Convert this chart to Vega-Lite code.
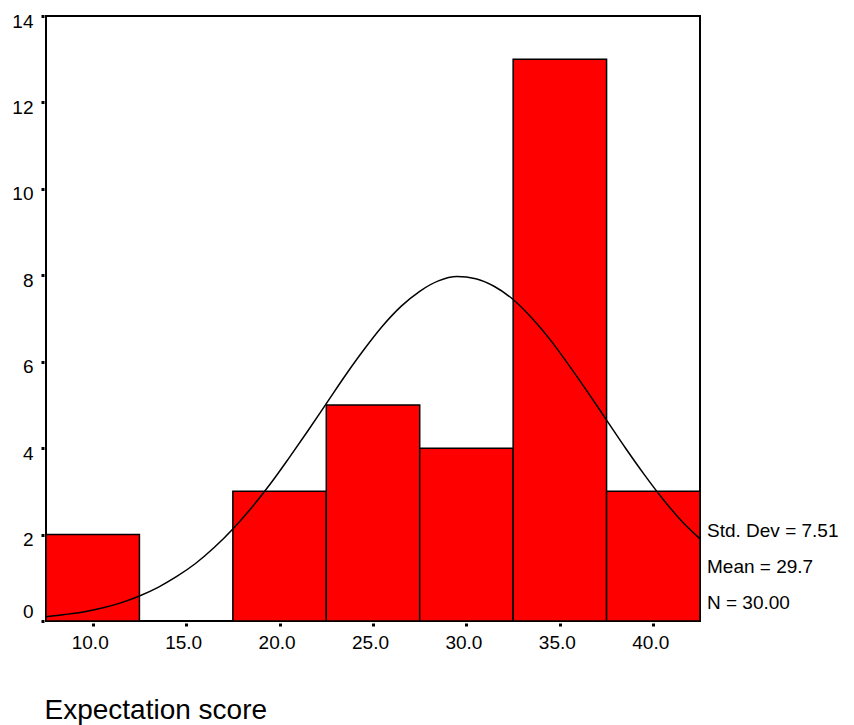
{
  "$schema": "https://vega.github.io/schema/vega-lite/v6.json",
  "width": 654,
  "height": 605,
  "padding": {"left": 46, "top": 16, "right": 154, "bottom": 104},
  "autosize": "none",
  "background": "white",
  "config": {
    "view": {"stroke": "black", "strokeWidth": 2},
    "font": "Liberation Sans",
    "axis": {"grid": false, "domain": false, "labelFont": "Liberation Sans", "labelFontSize": 19, "labelColor": "black", "tickColor": "black", "tickWidth": 3, "tickSize": 3, "offset": 2}
  },
  "layer": [
    {
      "data": {"values": [
        {"bin_start": 7.5, "bin_end": 12.5, "count": 2},
        {"bin_start": 12.5, "bin_end": 17.5, "count": 0},
        {"bin_start": 17.5, "bin_end": 22.5, "count": 3},
        {"bin_start": 22.5, "bin_end": 27.5, "count": 5},
        {"bin_start": 27.5, "bin_end": 32.5, "count": 4},
        {"bin_start": 32.5, "bin_end": 37.5, "count": 13},
        {"bin_start": 37.5, "bin_end": 42.5, "count": 3}
      ]},
      "mark": {"type": "rect", "fill": "#ff0000", "stroke": "black", "strokeWidth": 1.5},
      "encoding": {
        "x": {"field": "bin_start", "type": "quantitative",
          "scale": {"domain": [7.5, 42.5], "nice": false, "zero": false},
          "axis": {"values": [10, 15, 20, 25, 30, 35, 40], "format": ".1f", "labelPadding": 7, "labelOffset": -3,
            "title": "Expectation score", "titleFont": "Liberation Sans", "titleFontSize": 28, "titleFontWeight": "normal",
            "titleAnchor": "start", "titleAlign": "left", "titlePadding": 44, "titleX": -2}},
        "x2": {"field": "bin_end"},
        "y": {"field": "count", "type": "quantitative",
          "scale": {"domain": [0, 14], "nice": false},
          "axis": {"values": [0, 2, 4, 6, 8, 10, 12, 14], "labelPadding": 8,
            "labelOffset": {"condition": {"test": "datum.value == 0", "value": -10}, "value": 5}, "title": null}},
        "y2": {"datum": 0}
      }
    },
    {
      "data": {"values": [
        {"x": 7.5, "y": 0.10}, {"x": 8.5, "y": 0.15}, {"x": 9.5, "y": 0.21}, {"x": 10.5, "y": 0.30},
        {"x": 11.5, "y": 0.42}, {"x": 12.5, "y": 0.58}, {"x": 13.5, "y": 0.78}, {"x": 14.5, "y": 1.03},
        {"x": 15.5, "y": 1.33}, {"x": 16.5, "y": 1.70}, {"x": 17.5, "y": 2.13}, {"x": 18.5, "y": 2.62},
        {"x": 19.5, "y": 3.17}, {"x": 20.5, "y": 3.77}, {"x": 21.5, "y": 4.39}, {"x": 22.5, "y": 5.03},
        {"x": 23.5, "y": 5.67}, {"x": 24.5, "y": 6.27}, {"x": 25.5, "y": 6.82}, {"x": 26.5, "y": 7.28},
        {"x": 27.5, "y": 7.63}, {"x": 28.5, "y": 7.87}, {"x": 29.5, "y": 7.97}, {"x": 30.5, "y": 7.92},
        {"x": 31.5, "y": 7.74}, {"x": 32.5, "y": 7.44}, {"x": 33.5, "y": 7.01}, {"x": 34.5, "y": 6.50},
        {"x": 35.5, "y": 5.91}, {"x": 36.5, "y": 5.29}, {"x": 37.5, "y": 4.65}, {"x": 38.5, "y": 4.01},
        {"x": 39.5, "y": 3.40}, {"x": 40.5, "y": 2.83}, {"x": 41.5, "y": 2.32}, {"x": 42.5, "y": 1.90}
      ]},
      "mark": {"type": "line", "color": "black", "strokeWidth": 1.5, "interpolate": "monotone"},
      "encoding": {
        "x": {"field": "x", "type": "quantitative"},
        "y": {"field": "y", "type": "quantitative"}
      }
    },
    {
      "data": {"values": [
        {"label": "Std. Dev = 7.51", "x": 42.5, "y": 2.08},
        {"label": "Mean = 29.7", "x": 42.5, "y": 1.25},
        {"label": "N = 30.00", "x": 42.5, "y": 0.42}
      ]},
      "mark": {"type": "text", "align": "left", "baseline": "middle", "dx": 7, "fontSize": 19, "font": "Liberation Sans", "color": "black"},
      "encoding": {
        "x": {"field": "x", "type": "quantitative"},
        "y": {"field": "y", "type": "quantitative"},
        "text": {"field": "label"}
      }
    }
  ]
}
